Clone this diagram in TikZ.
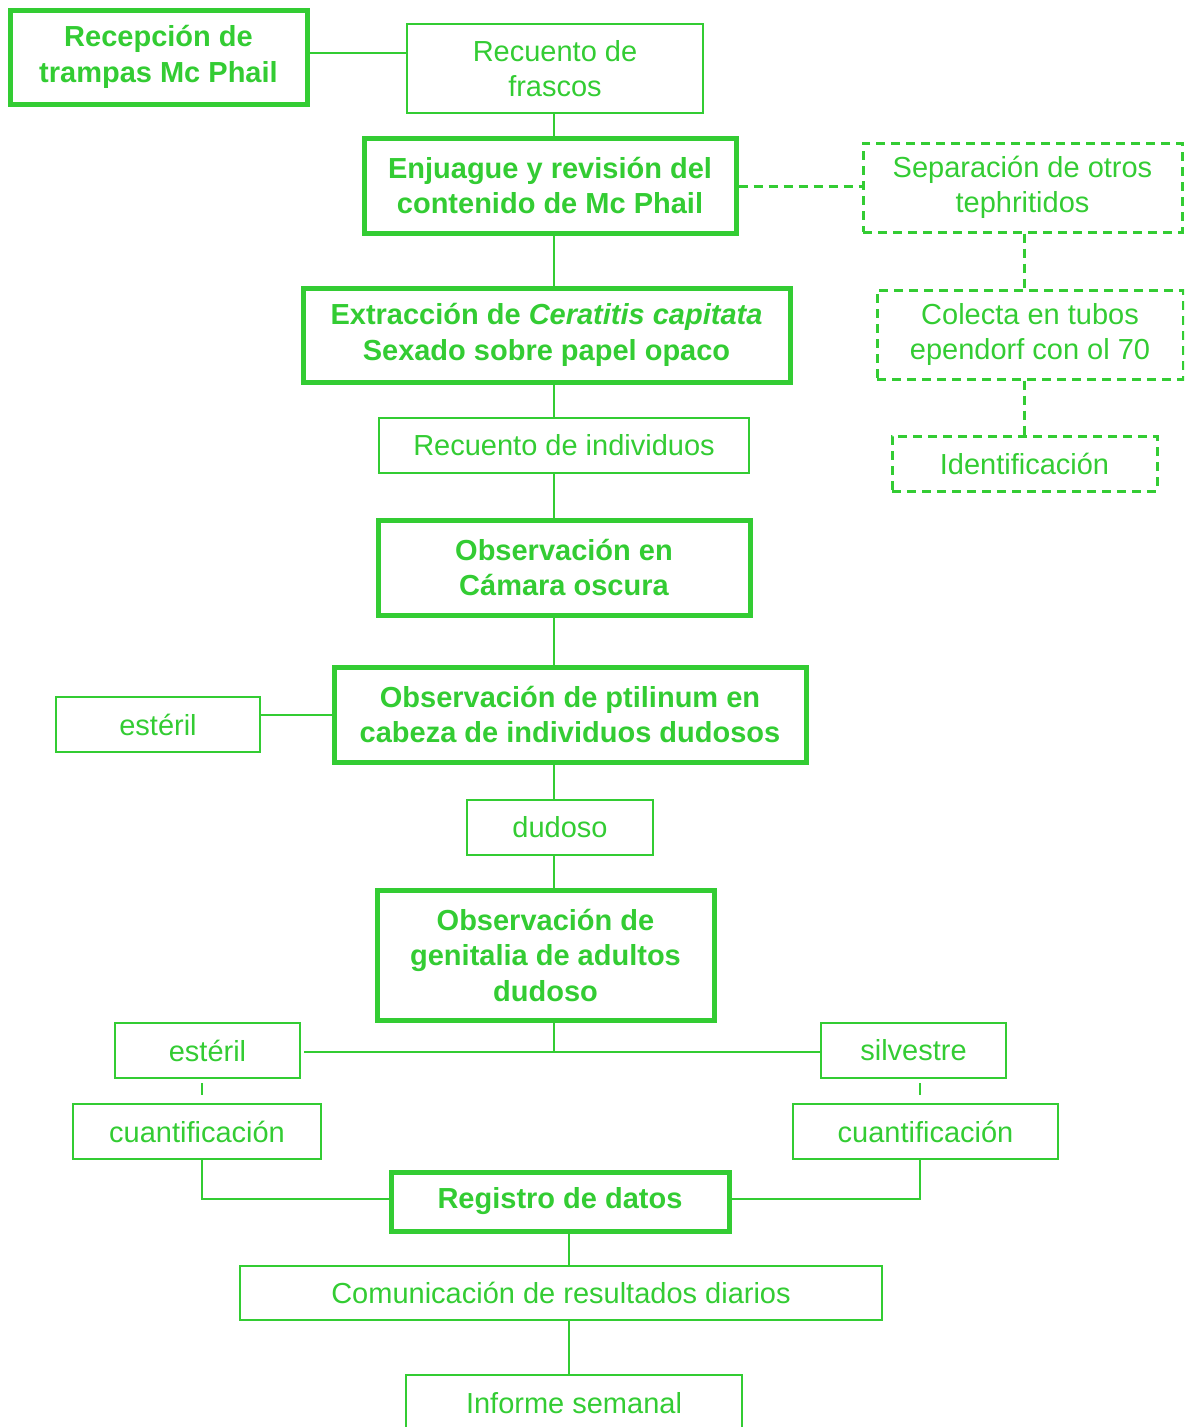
\documentclass[tikz,border=0pt]{standalone}
\usepackage{fontspec}
\setmainfont{Liberation Sans}
\definecolor{gr}{HTML}{33CC33}
\begin{document}
\begin{tikzpicture}[x=1pt,y=-1pt,
  every node/.style={align=center, inner sep=0pt, text=gr, font=\fontsize{29}{35.5}\selectfont},
  thk/.style={draw=gr, line width=5pt, rectangle, font=\fontsize{29}{35.5}\selectfont\bfseries},
  thn/.style={draw=gr, line width=2.2pt, rectangle},
  dsh/.style={draw=gr, line width=3pt, rectangle, dash pattern=on 9pt off 6pt},
  ln/.style={draw=gr, line width=2.2pt},
  dln/.style={draw=gr, line width=3pt, dash pattern=on 9pt off 6pt}]
\useasboundingbox (0,0) rectangle (1184,1427);
\clip (0,0) rectangle (1184,1427);
\node[thk, minimum width=297pt, minimum height=94pt] (recep) at (158.5,57) {Recepción de\\trampas Mc Phail};
\node[thn, minimum width=296pt, minimum height=89pt] (rfr) at (555,68.5) {Recuento de\\frascos};
\node[thk, minimum width=372pt, minimum height=95pt] (enj) at (550,185.5) {Enjuague y revisión del\\contenido de Mc Phail};
\node[dsh, minimum width=319pt, minimum height=89pt] (sep) at (1022.5,187.5) {Separación de otros\\tephritidos};
\node[dsh, minimum width=306pt, minimum height=89pt] (col) at (1030,334.5) {Colecta en tubos\\ependorf con ol 70};
\node[dsh, minimum width=265pt, minimum height=55pt] (ide) at (1024.5,463.5) {Identificación};
\node[thk, minimum width=487pt, minimum height=94pt] (ext) at (546.5,335) {Extracción de \textit{Ceratitis capitata}\\Sexado sobre papel opaco};
\node[thn, minimum width=370pt, minimum height=55pt] (rind) at (564,445.5) {Recuento de individuos};
\node[thk, minimum width=372pt, minimum height=95pt] (ocam) at (564,567.5) {Observación en\\Cámara oscura};
\node[thk, minimum width=472pt, minimum height=95pt] (optil) at (570,714.5) {Observación de ptilinum en\\cabeza de individuos dudosos};
\node[thn, minimum width=204pt, minimum height=55pt] (est1) at (158,724.5) {estéril};
\node[thn, minimum width=186pt, minimum height=55pt] (dud) at (560,827.5) {dudoso};
\node[thk, minimum width=337pt, minimum height=130pt] (ogen) at (545.5,955) {Observación de\\genitalia de adultos\\dudoso};
\node[thn, minimum width=185pt, minimum height=55pt] (est2) at (207.5,1050.5) {estéril};
\node[thn, minimum width=185pt, minimum height=55pt] (silv) at (913.5,1050.5) {silvestre};
\node[thn, minimum width=248pt, minimum height=55pt] (cq1) at (197,1131.5) {cuantificación};
\node[thn, minimum width=265pt, minimum height=55pt] (cq2) at (925.5,1131.5) {cuantificación};
\node[thk, minimum width=338pt, minimum height=59pt] (reg) at (560,1201.5) {Registro de datos};
\node[thn, minimum width=642pt, minimum height=54pt] (com) at (561,1293) {Comunicación de resultados diarios};
\node[thn, minimum width=336pt, minimum height=62pt] (inf) at (574,1406) {};
\node (inft) at (574,1403) {Informe semanal};
\coordinate (j) at (554,1052);
% connectors
\draw[ln] (recep.east |- 0,53) -- (rfr.west |- 0,53);
\draw[ln] (rfr.south -| 554,0) -- (enj.north -| 554,0);
\draw[dln] (enj.east |- 0,186) -- (sep.west |- 0,186);
\draw[dln] (sep.south -| 1024,0) -- (col.north -| 1024,0);
\draw[dln] (col.south -| 1024,0) -- (ide.north -| 1024,0);
\draw[ln] (enj.south -| 554,0) -- (ext.north -| 554,0);
\draw[ln] (ext.south -| 554,0) -- (rind.north -| 554,0);
\draw[ln] (rind.south -| 554,0) -- (ocam.north -| 554,0);
\draw[ln] (ocam.south -| 554,0) -- (optil.north -| 554,0);
\draw[ln] (est1.east |- 0,715) -- (optil.west |- 0,715);
\draw[ln] (optil.south -| 554,0) -- (dud.north -| 554,0);
\draw[ln] (dud.south -| 554,0) -- (ogen.north -| 554,0);
\draw[ln] (ogen.south -| 554,0) -- (j);
\draw[ln, shorten <=3pt] (est2.east |- j) -- (silv.west |- j);
\draw[ln, shorten <=4pt, shorten >=8pt] (est2.south -| 202,0) -- (cq1.north -| 202,0);
\draw[ln, shorten <=4pt, shorten >=8pt] (silv.south -| 920,0) -- (cq2.north -| 920,0);
\draw[ln] (cq1.south -| 202,0) |- (reg.west |- 0,1199);
\draw[ln] (cq2.south -| 920,0) |- (reg.east |- 0,1199);
\draw[ln] (reg.south -| 569,0) -- (com.north -| 569,0);
\draw[ln] (com.south -| 569,0) -- (inf.north -| 569,0);
\end{tikzpicture}
\end{document}
